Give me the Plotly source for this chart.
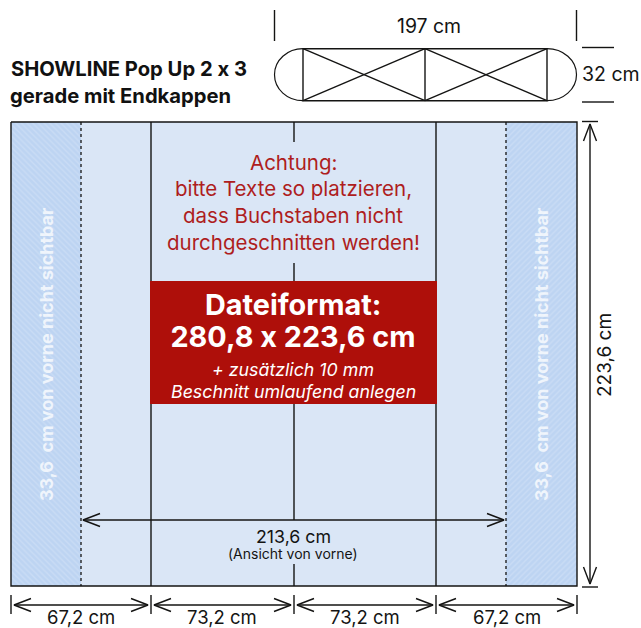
import plotly.graph_objects as go

# Labels
title_lines = ["SHOWLINE Pop Up 2 x 3", "gerade mit Endkappen"]
warning_lines = ["Achtung:", "bitte Texte so platzieren,", "dass Buchstaben nicht", "durchgeschnitten werden!"]
format_lines = ["Dateiformat:", "280,8 x 223,6 cm"]
format_notes = ["+ zusätzlich 10 mm", "Beschnitt umlaufend anlegen"]
hidden_label = "33,6  cm von vorne nicht sichtbar"
panel_labels = ["67,2 cm", "73,2 cm", "73,2 cm", "67,2 cm"]
front_label = "213,6 cm"
front_note = "(Ansicht von vorne)"
depth_label = "32 cm"
plan_width_label = "197 cm"
height_label = "223,6 cm"

# Schematic layout (not to scale)
panel_edges = [11, 151, 294, 436, 577]
hidden_edges = [81, 506]
wall_top, wall_bottom = 122, 586
notice_box = [150, 437, 281, 404]
plan_bays = [303, 425, 547]
plan_top, plan_bottom = 48.7, 100.7
plan_ends = [274.5, 576.5]

FONT = "Inter"
INK = "#141413"
PANEL = "#dae6f6"
HATCH_BG = "#bdd4f2"
HATCH_FG = "#d6e4f7"
RED = "#ae0f0a"
RED_TEXT = "#ae1d20"

fig = go.Figure()


def box(x0, x1, y0, y1, color, pattern=None):
    fig.add_bar(x=[(x0 + x1) / 2], y=[y1 - y0], base=[y0], width=[x1 - x0],
                marker=dict(color=color, line_width=0, pattern=pattern),
                hoverinfo="skip", showlegend=False)


box(panel_edges[0], panel_edges[-1], wall_top, wall_bottom, PANEL)
box(panel_edges[0], hidden_edges[0], wall_top, wall_bottom, HATCH_BG,
    dict(shape="\\", size=4, solidity=0.35, fgcolor=HATCH_FG, bgcolor=HATCH_BG))
box(hidden_edges[1], panel_edges[-1], wall_top, wall_bottom, HATCH_BG,
    dict(shape="/", size=4, solidity=0.35, fgcolor=HATCH_FG, bgcolor=HATCH_BG))
box(notice_box[0], notice_box[1], notice_box[2], notice_box[3], RED)

segments = []


def seg(x0, y0, x1, y1):
    segments.append(((x0, x1), (y0, y1)))


def poly(xs, ys):
    segments.append((tuple(xs), tuple(ys)))


def arrow_h(x0, x1, y, head=17, half=6.5):
    seg(x0, y, x1, y)
    poly([x0 + head, x0, x0 + head], [y - half, y, y + half])
    poly([x1 - head, x1, x1 - head], [y - half, y, y + half])


def arrow_v(x, y0, y1, head=17, half=6.5):
    seg(x, y0, x, y1)
    poly([x - half, x, x + half], [y0 + head, y0, y0 + head])
    poly([x - half, x, x + half], [y1 - head, y1, y1 - head])


# outer frame and fold lines
poly([panel_edges[0], panel_edges[-1], panel_edges[-1], panel_edges[0], panel_edges[0]],
     [wall_top, wall_top, wall_bottom, wall_bottom, wall_top])
for px in (panel_edges[1], panel_edges[3]):
    seg(px, wall_top, px, notice_box[2])
    seg(px, notice_box[3], px, wall_bottom)
mid = panel_edges[2]
seg(mid, wall_top, mid, 142)
seg(mid, 263, mid, notice_box[2])
seg(mid, notice_box[3], mid, 520)
seg(mid, 564, mid, wall_bottom)

# front width arrow
arrow_h(hidden_edges[0] + 2, hidden_edges[1] - 2, 520)
# panel dimension arrows
dim_y = 605
for a, b in zip(panel_edges[:-1], panel_edges[1:]):
    arrow_h(a + 3, b - 3, dim_y, head=17, half=6.5)
for px in panel_edges:
    seg(px, 595, px, 614)
# height arrow
arrow_v(590, wall_top + 2, wall_bottom - 2)
seg(582, wall_top - 0.5, 598, wall_top - 0.5)
seg(582, wall_bottom + 1, 598, wall_bottom + 1)
# plan view
poly([plan_bays[0], plan_bays[-1], plan_bays[-1], plan_bays[0], plan_bays[0]],
     [plan_top, plan_top, plan_bottom, plan_bottom, plan_top])
seg(plan_bays[1], plan_top, plan_bays[1], plan_bottom)
for a, b in zip(plan_bays[:-1], plan_bays[1:]):
    seg(a, plan_top, b, plan_bottom)
    seg(a, plan_bottom, b, plan_top)
# plan dimension marks
seg(plan_ends[0], 10, plan_ends[0], 41)
seg(plan_ends[1], 10, plan_ends[1], 41)
seg(582, 47.5, 614, 47.5)
seg(582, 102, 614, 102)

lx, ly = [], []
for xs, ys in segments:
    lx += list(xs) + [None]
    ly += list(ys) + [None]
fig.add_scatter(x=lx, y=ly, mode="lines", line=dict(color=INK, width=1.4),
                hoverinfo="skip", showlegend=False)
for hx in hidden_edges:
    fig.add_scatter(x=[hx, hx], y=[wall_top, wall_bottom], mode="lines",
                    line=dict(color=INK, width=1.3, dash="3px,3px"),
                    hoverinfo="skip", showlegend=False)

# rounded plan ends
shapes = []
k = 0.5523
h = plan_bottom - plan_top
cy = (plan_top + plan_bottom) / 2
for edge, end in ((plan_bays[0], plan_ends[0]), (plan_bays[-1], plan_ends[1])):
    d = end - edge
    path = (f"M {edge} {plan_top} C {edge + d * k} {plan_top} {end} {cy - h / 2 * k} {end} {cy} "
            f"C {end} {cy + h / 2 * k} {edge + d * k} {plan_bottom} {edge} {plan_bottom}")
    shapes.append(dict(type="path", path=path, line=dict(color=INK, width=1.2), xref="x", yref="y"))


def text(x, y, s, size, color=INK, bold=False, italic=False, anchor="center", angle=0, opacity=1):
    fig.add_annotation(x=x, y=y, text=s, showarrow=False, xanchor=anchor, yanchor="middle",
                       textangle=angle, opacity=opacity, borderpad=0,
                       font=dict(family=FONT, size=size, color=color,
                                 weight=700 if bold else 400,
                                 style="italic" if italic else "normal"))


for yy, s in zip((68, 95), title_lines):
    text(9, yy, s, 20.2, color="#111111", bold=True, anchor="left")
for yy, s in zip((162, 188, 215, 242), warning_lines):
    text(293, yy, s, 20.5, color=RED_TEXT)
for yy, s in zip((304, 336), format_lines):
    text(293, yy, s, 28.8, color="white", bold=True)
for yy, s in zip((369, 391), format_notes):
    text(293, yy, s, 17.8, color="white", italic=True)
text(46, 355, hidden_label, 18, color="white", bold=True, angle=-90, opacity=0.75)
text(541, 355, hidden_label, 18, color="white", bold=True, angle=-90, opacity=0.75)
for cx, s in zip((81, 222, 365, 507), panel_labels):
    text(cx, 617, s, 18.5)
text(293, 536, front_label, 17.8)
text(293, 553, front_note, 14)
text(429, 26, plan_width_label, 19.4)
text(581, 74, depth_label, 19.5, anchor="left")
text(604, 355, height_label, 19, angle=-90)

fig.update_layout(
    width=641, height=628, margin=dict(l=0, r=0, t=0, b=0),
    paper_bgcolor="white", plot_bgcolor="white", barmode="overlay", showlegend=False,
    xaxis=dict(range=[0, 641], visible=False, fixedrange=True),
    yaxis=dict(range=[628, 0], visible=False, fixedrange=True),
    shapes=shapes,
)
fig.write_html("out.html", config=dict(displayModeBar=False),
               post_script="document.body.style.margin='0';document.body.style.overflow='hidden';"
                           "var st=document.createElement('style');"
                           "st.textContent='text{font-feature-settings:\"calt\" 0 !important;}';"
                           "document.head.appendChild(st);")
